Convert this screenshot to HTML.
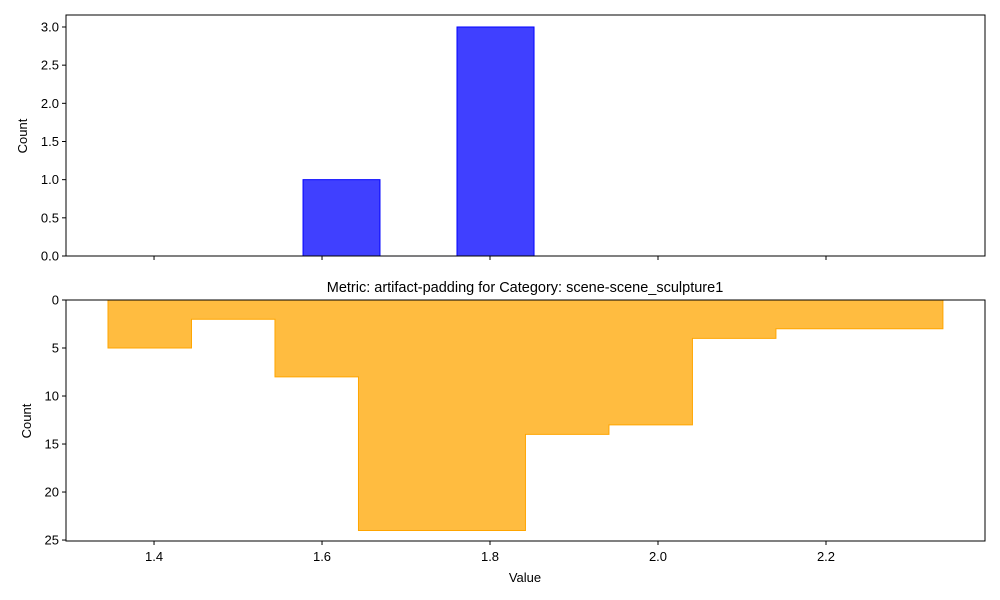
<!DOCTYPE html>
<html><head><meta charset="utf-8"><style>
body{margin:0;background:#fff;}
svg{display:block;font-family:"Liberation Sans","DejaVu Sans",sans-serif;}
</style></head><body>
<svg id="chart" width="1000" height="600" viewBox="0 0 1000 600"></svg>
<script>
const topEdges = [1.5774, 1.669, 1.7607, 1.8524];
const topCounts = [1, 0, 3];
const botStart = 1.3452;
const botWidth = 0.0994;
const botCounts = [5, 2, 8, 24, 24, 14, 13, 4, 3, 3];
const xTicks = [1.4, 1.6, 1.8, 2.0, 2.2];
const xTickLabels = ["1.4", "1.6", "1.8", "2.0", "2.2"];
const topYTicks = [0, 0.5, 1, 1.5, 2, 2.5, 3];
const topYLabels = ["0.0", "0.5", "1.0", "1.5", "2.0", "2.5", "3.0"];
const botYTicks = [0, 5, 10, 15, 20, 25];
const botYLabels = ["0", "5", "10", "15", "20", "25"];

const NS = "http://www.w3.org/2000/svg";
const svg = document.getElementById("chart");
function mk(tag, attrs, parent) {
  const e = document.createElementNS(NS, tag);
  for (const k in attrs) e.setAttribute(k, attrs[k]);
  (parent || svg).appendChild(e);
  return e;
}
const L = 66, R = 985;
const xMin = 1.2952, xMax = 2.3893;
const x = v => L + (v - xMin) / (xMax - xMin) * (R - L);
const tT = 15, tB = 256, tMax = 3.157;
const yTop = v => tB - v / tMax * (tB - tT);
const bT = 300, bB = 541, bMax = 25.1;
const yBot = v => bT + v / bMax * (bB - bT);

topCounts.forEach((c, i) => {
  const x0 = x(topEdges[i]), x1 = x(topEdges[i + 1]);
  const r = mk("rect", {x: x0, y: yTop(c), width: x1 - x0, height: Math.max(yTop(0) - yTop(c), 0.01), fill: "rgba(0,0,255,0.75)", stroke: "#0000ff", "stroke-width": 1});
  
  
});

let d = "M" + x(botStart) + "," + yBot(0);
botCounts.forEach((c, i) => {
  d += " L" + x(botStart + i * botWidth) + "," + yBot(c) + " L" + x(botStart + (i + 1) * botWidth) + "," + yBot(c);
});
d += " L" + x(botStart + botCounts.length * botWidth) + "," + yBot(0) + " Z";
const st = mk("path", {d: d, fill: "rgba(255,165,0,0.75)", stroke: "#ffa500", "stroke-width": 1});



const f1 = mk("rect", {x: L, y: tT, width: R - L, height: tB - tT, fill: "none", stroke: "#000", "stroke-width": 1});


const f2 = mk("rect", {x: L, y: bT, width: R - L, height: bB - bT, fill: "none", stroke: "#000", "stroke-width": 1});



xTicks.forEach((v, i) => {
  const xx = x(v);
  mk("line", {x1: xx, x2: xx, y1: tB, y2: tB + 4, stroke: "#000"});
  mk("line", {x1: xx, x2: xx, y1: bB, y2: bB + 4, stroke: "#000"});
  const t = mk("text", {x: xx, y: bB + 20, "font-size": 13, "text-anchor": "middle"});
  t.textContent = xTickLabels[i];
  
  
});
topYTicks.forEach((v, i) => {
  const yy = yTop(v);
  mk("line", {x1: L - 4, x2: L, y1: yy, y2: yy, stroke: "#000"});
  const t = mk("text", {x: L - 7, y: yy + 4.5, "font-size": 13, "text-anchor": "end"});
  t.textContent = topYLabels[i];
  
  
});
botYTicks.forEach((v, i) => {
  const yy = yBot(v);
  mk("line", {x1: L - 4, x2: L, y1: yy, y2: yy, stroke: "#000"});
  const t = mk("text", {x: L - 7, y: yy + 4.5, "font-size": 13, "text-anchor": "end"});
  t.textContent = botYLabels[i];
  
  
});

function label(txt, attrs, name) {
  const t = mk("text", attrs);
  t.textContent = txt;
  
  
}
label("Count", {x: 27, y: 136, "font-size": 13, "text-anchor": "middle", transform: "rotate(-90 27 136)"}, "top-y-axis-title");
label("Count", {x: 31, y: 421, "font-size": 13, "text-anchor": "middle", transform: "rotate(-90 31 421)"}, "bottom-y-axis-title");
label("Value", {x: 525, y: 582, "font-size": 13, "text-anchor": "middle"}, "x-axis-title");
label("Metric: artifact-padding for Category: scene-scene_sculpture1", {x: 525, y: 292, "font-size": 14.5, "text-anchor": "middle"}, "bottom-chart-title");
</script>
</body></html>
